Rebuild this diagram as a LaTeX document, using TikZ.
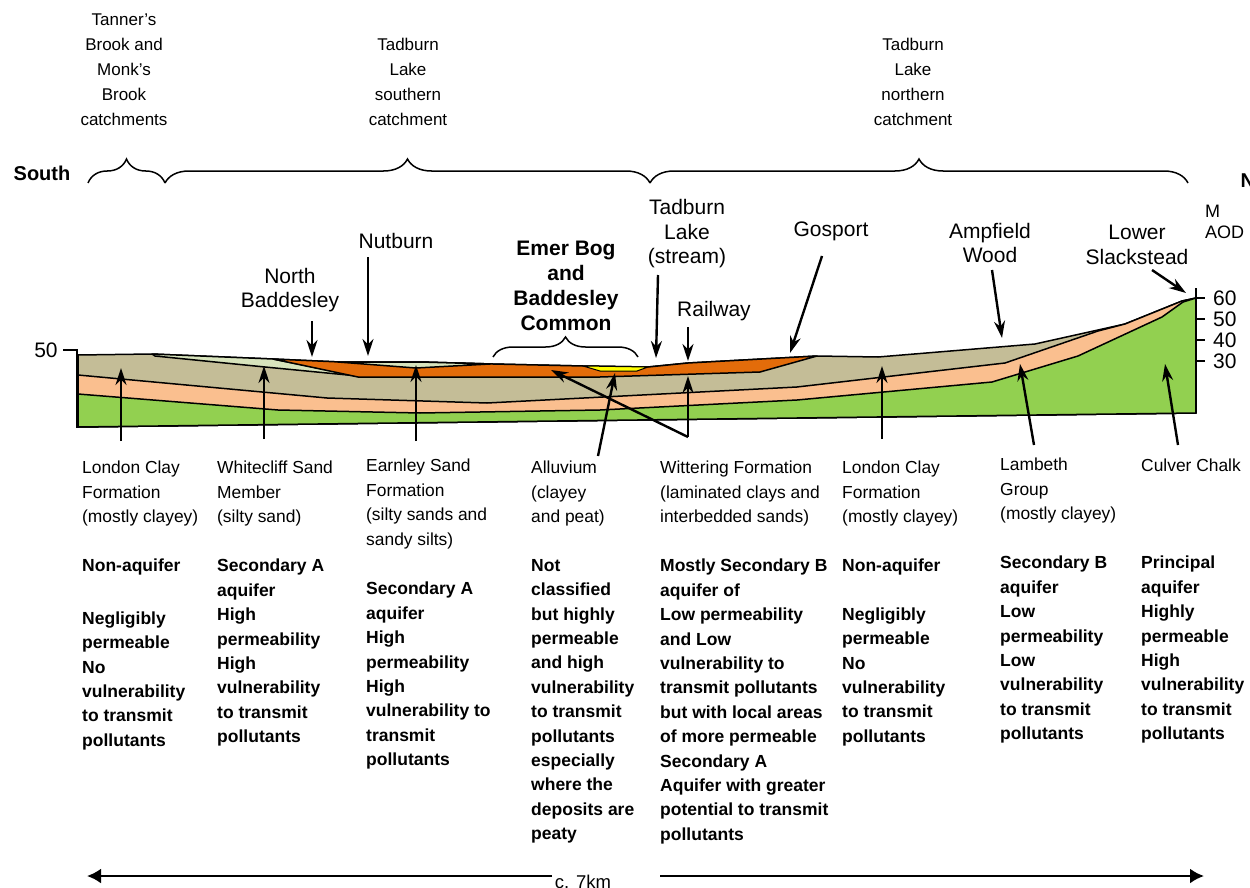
\documentclass[tikz,border=0pt]{standalone}
\usepackage{fontspec}
\setmainfont{Liberation Sans}
\usetikzlibrary{arrows.meta,decorations.pathreplacing}

\definecolor{chalk}{RGB}{146,208,80}
\definecolor{lambeth}{RGB}{250,191,143}
\definecolor{londonclay}{RGB}{196,189,151}
\definecolor{whitecliff}{RGB}{216,228,189}
\definecolor{wittering}{RGB}{227,108,10}
\definecolor{alluvium}{RGB}{255,255,0}

\tikzset{
  layer/.style={draw=black, line width=1.5pt, line join=round},
  pointer/.style={-{Stealth[length=17pt,width=11pt]}, line width=2.4pt},
  catch/.style={align=center, font=\fontsize{17}{25}\selectfont},
  place/.style={align=center, font=\fontsize{21}{24.5}\selectfont},
  rock/.style={anchor=north west, align=left, inner sep=0pt, font=\fontsize{17.4}{24.4}\selectfont},
  status/.style={anchor=north west, align=left, inner sep=0pt, font=\fontsize{17.5}{24.4}\selectfont\bfseries},
  catchbrace/.style={decorate, decoration={brace, amplitude=24pt}, line width=1.5pt},
}

\begin{document}
\begin{tikzpicture}[x=1pt,y=-1pt]
  \useasboundingbox (0,0) rectangle (1250,888);

  % catchments along the top
  \node[catch] (tanners) at (124,70) {Tanner's\\Brook and\\Monk's\\Brook\\catchments};
  \node[catch] (southcatch) at (408,82) {Tadburn\\Lake\\southern\\catchment};
  \node[catch] (northcatch) at (913,82) {Tadburn\\Lake\\northern\\catchment};
  \node[font=\fontsize{20}{24}\selectfont\bfseries] (south) at (42,173) {South};
  \node[font=\fontsize{20}{24}\selectfont\bfseries, anchor=west] (north) at (1237,180) {North};
  \coordinate (b0) at (88,183);
  \coordinate (b1) at (165,183);
  \coordinate (b2) at (650,183);
  \coordinate (b3) at (1188,183);
  \draw[catchbrace] (b0) -- (b1);
  \draw[catchbrace] (b1) -- (b2);
  \draw[catchbrace] (b2) -- (b3);

  % section, London Clay first, older beds drawn over it
  \draw[layer, fill=londonclay] (78,355) -- (152,354) -- (273,359) -- (340,362) -- (420,362)
    -- (493,364) -- (583,366) -- (648,367) -- (688,363) -- (817,356) -- (878,357)
    -- (1035,344) -- (1125,324) -- (1182,301) -- (1196,298) -- (1196,413) -- (78,427) -- cycle;
  \draw[layer, fill=lambeth] (78,375) -- (327,398) -- (487,403) -- (797,387) -- (1005,363)
    -- (1098,331) -- (1125,324) -- (1182,301) -- (1196,298) -- (1196,413) -- (78,427) -- cycle;
  \draw[layer, fill=chalk] (78,394) -- (278,410) -- (420,413) -- (600,410) -- (797,400)
    -- (992,382) -- (1078,356) -- (1162,317) -- (1183,302) -- (1196,298) -- (1196,413) -- (78,427) -- cycle;
  \draw[layer, fill=whitecliff] (152,354) -- (273,359) -- (358,376) -- (265,367) -- (155,356) -- cycle;
  \draw[layer, fill=wittering] (273,359) -- (340,362) -- (420,362) -- (493,364) -- (583,366)
    -- (648,367) -- (688,363) -- (817,356) -- (760,372) -- (600,377) -- (358,377) -- cycle;
  \draw[layer, fill=whitecliff] (338,362) -- (420,362) -- (490,364) -- (416,368) -- cycle;
  \draw[layer, line width=1pt, fill=alluvium] (583,366) -- (648,367) -- (637,371) -- (600,371) -- cycle;

  % height scales
  \draw[line width=1.6pt] (63,350) -- (77,350) -- (77,428);
  \node[font=\fontsize{21}{24}\selectfont] (fifty) at (46,350) {50};
  \draw[line width=1.6pt] (1196,288) -- (1196,413);
  \foreach \v/\y in {60/298,50/319,40/340,30/361} {
    \draw[line width=1.6pt] (1196,\y) -- (1205,\y);
    \node[font=\fontsize{21}{24}\selectfont, anchor=west, inner sep=0pt] (aod\v) at (1213,\y) {\v};
  }
  \node[align=left, anchor=west, inner sep=0pt, font=\fontsize{18}{21}\selectfont] (maod) at (1205,222) {M\\AOD};

  % places on the surface
  \node[place] (nbaddesley) at (290,290) {North\\Baddesley};
  \node[place] (nutburn) at (396,241) {Nutburn};
  \node[place, font=\fontsize{21}{25}\selectfont\bfseries] (emer) at (566,286) {Emer Bog\\and\\Baddesley\\Common};
  \node[place] (tadburn) at (687,234) {Tadburn\\Lake\\(stream)};
  \node[place] (railway) at (714,311) {Railway};
  \node[place] (gosport) at (831,231) {Gosport};
  \node[place] (ampfield) at (990,243) {Ampfield\\Wood};
  \node[place] (slackstead) at (1137,245) {Lower\\Slackstead};
  \coordinate (e0) at (493,357);
  \coordinate (e1) at (638,357);
  \draw[decorate, decoration={brace, amplitude=20pt}, line width=1.5pt] (e0) -- (e1);

  \coordinate (nb-a) at (312,321);   \coordinate (nb-b) at (312,357);
  \coordinate (nut-a) at (368,257);  \coordinate (nut-b) at (368,356);
  \coordinate (tad-a) at (658,275);  \coordinate (tad-b) at (656,358);
  \coordinate (rail-a) at (688,327); \coordinate (rail-b) at (688,361);
  \coordinate (gos-a) at (822,256);  \coordinate (gos-b) at (790,353);
  \coordinate (amp-a) at (992,270);  \coordinate (amp-b) at (1002,338);
  \coordinate (sl-a) at (1152,270);  \coordinate (sl-b) at (1186,293);
  \foreach \p in {nb,nut,tad,rail,gos,amp,sl}
    \draw[pointer] (\p-a) -- (\p-b);

  % formations and their aquifer status
  \node[rock] (clay-s) at (82,461) {London Clay\\Formation\\(mostly clayey)};
  \node[status] (clay-s-st) at (82,559) {Non-aquifer\\[28pt]Negligibly\\permeable\\No\\vulnerability\\to transmit\\pollutants};
  \node[rock] (wcliff) at (217,461) {Whitecliff Sand\\Member\\(silty sand)};
  \node[status] (wcliff-st) at (217,559) {Secondary A\\aquifer\\High\\permeability\\High\\vulnerability\\to transmit\\pollutants};
  \node[rock] (earnley) at (366,459) {Earnley Sand\\Formation\\(silty sands and\\sandy silts)};
  \node[status] (earnley-st) at (366,582) {Secondary A\\aquifer\\High\\permeability\\High\\vulnerability to\\transmit\\pollutants};
  \node[rock] (alluv) at (531,461) {Alluvium\\(clayey\\and peat)};
  \node[status] (alluv-st) at (531,559) {Not\\classified\\but highly\\permeable\\and high\\vulnerability\\to transmit\\pollutants\\especially\\where the\\deposits are\\peaty};
  \node[rock] (witt) at (660,461) {Wittering Formation\\(laminated clays and\\interbedded sands)};
  \node[status] (witt-st) at (660,559) {Mostly Secondary B\\aquifer of\\Low permeability\\and Low\\vulnerability to\\transmit pollutants\\but with local areas\\of more permeable\\Secondary A\\Aquifer with greater\\potential to transmit\\pollutants};
  \node[rock] (clay-n) at (842,461) {London Clay\\Formation\\(mostly clayey)};
  \node[status] (clay-n-st) at (842,559) {Non-aquifer\\[24pt]Negligibly\\permeable\\No\\vulnerability\\to transmit\\pollutants};
  \node[rock] (lamb) at (1000,458) {Lambeth\\Group\\(mostly clayey)};
  \node[status] (lamb-st) at (1000,556) {Secondary B\\aquifer\\Low\\permeability\\Low\\vulnerability\\to transmit\\pollutants};
  \node[rock] (culver) at (1141,459) {Culver Chalk};
  \node[status] (culver-st) at (1141,556) {Principal\\aquifer\\Highly\\permeable\\High\\vulnerability\\to transmit\\pollutants};

  \coordinate (lc1-a) at (121,441);   \coordinate (lc1-b) at (121,368);
  \coordinate (wc-a) at (264,439);    \coordinate (wc-b) at (264,366);
  \coordinate (ea-a) at (416,441);    \coordinate (ea-b) at (416,365);
  \coordinate (al-a) at (598,456);    \coordinate (al-b) at (615,373);
  \coordinate (wi-a) at (688,437);    \coordinate (wi-b) at (688,376);
  \coordinate (lc2-a) at (882,439);   \coordinate (lc2-b) at (882,366);
  \coordinate (la-a) at (1034,445);   \coordinate (la-b) at (1020,364);
  \coordinate (ch-a) at (1178,445);   \coordinate (ch-b) at (1165,364);
  \foreach \p in {lc1,wc,ea,al,wi,lc2,la,ch}
    \draw[pointer] (\p-a) -- (\p-b);
  \coordinate (wi-c) at (551,370);
  \draw[pointer] (wi-a) -- (wi-c);

  % length of the section
  \node[font=\fontsize{18.5}{22}\selectfont] (length) at (583,882) {c. 7km};
  \coordinate (len-w) at (87,876);
  \coordinate (len-e) at (1204,876);
  \draw[-{Latex[length=14pt,width=15pt]}, line width=2.5pt] (552,876) -- (len-w);
  \draw[-{Latex[length=14pt,width=15pt]}, line width=2.5pt] (660,876) -- (len-e);
\end{tikzpicture}
\end{document}
